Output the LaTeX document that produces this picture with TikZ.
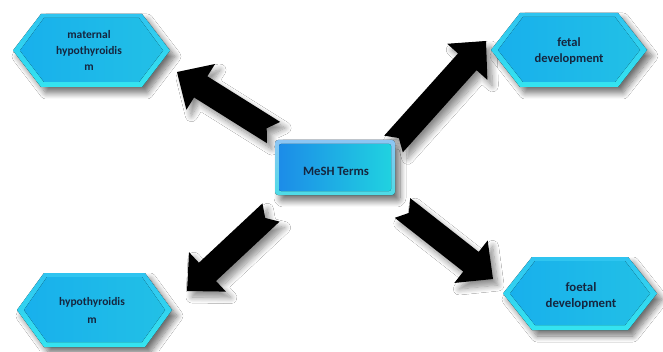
\documentclass[tikz,border=0pt]{standalone}
\usepackage{fontspec}
\setmainfont{Carlito}
\usetikzlibrary{calc,shadows.blur}
\definecolor{txt}{HTML}{15263F}
\definecolor{rimtop}{HTML}{2FC4F0}
\definecolor{rimbot}{HTML}{34E4F0}
\definecolor{facel}{HTML}{18B0EC}
\definecolor{facer}{HTML}{22C0E6}
\definecolor{rectl}{HTML}{1C8CE8}
\definecolor{rectr}{HTML}{20D2E0}
\tikzset{
  shad/.style={blur shadow={shadow xshift=5pt,shadow yshift=-6pt,shadow blur steps=10,shadow opacity=55,shadow blur radius=6pt}},
  rim/.style={top color=rimtop,bottom color=rimbot},
  face/.style={left color=facel,right color=facer},
  lbl/.style={text=txt,font=\bfseries,align=center,inner sep=0pt},
  fat/.style={fill=black,blur shadow={shadow xshift=5pt,shadow yshift=-6pt,shadow blur steps=10,shadow opacity=45,shadow blur radius=6pt}}
}
% hexagon: cx cy half-width half-height inset
\newcommand\mhex[5]{%
  \begin{scope}[shift={(#1,#2)}]
    \fill[shad,rim] (-#3,0) -- ({-#3+#5},#4) -- ({#3-#5},#4) -- (#3,0) -- ({#3-#5},-#4) -- ({-#3+#5},-#4) -- cycle;
    \fill[face] ({-#3+7},0) -- ({-#3+#5+3},{#4-4}) -- ({#3-#5-3},{#4-4}) -- ({#3-7},0) -- ({#3-#5-3},{-#4+5}) -- ({-#3+#5+3},{-#4+5}) -- cycle;
  \end{scope}}
% fat arrow from tail #1 to tip #2
\newcommand\fatarrow[2]{%
  \fill[fat] ($(#1)!12.5pt!90:(#2)$) -- ($(#2)!28pt!(#1)!12.5pt!-90:(#1)$) -- ($(#2)!28pt!(#1)!27pt!-90:(#1)$) -- (#2)
    -- ($(#2)!28pt!(#1)!27pt!90:(#1)$) -- ($(#2)!28pt!(#1)!12.5pt!90:(#1)$) -- ($(#1)!12.5pt!-90:(#2)$) -- ($(#1)!8pt!(#2)$) -- cycle;}
\begin{document}
\begin{tikzpicture}[x=1pt,y=1pt]
\useasboundingbox (0,0) rectangle (663,351);
\fill[white] (0,0) rectangle (663,351);
% arrow anchor points
\coordinate (ulA) at (273.5,218.5); \coordinate (ulB) at (177,279);
\coordinate (urA) at (393.5,207);   \coordinate (urB) at (486,310);
\coordinate (llA) at (271,138.5);   \coordinate (llB) at (187,60);
\coordinate (lrA) at (402.5,143);   \coordinate (lrB) at (493,72);
\fatarrow{ulA}{ulB}
\fatarrow{urA}{urB}
\fatarrow{llA}{llB}
\fatarrow{lrA}{lrB}
% hexagons
\mhex{91.5}{300.5}{78.5}{36.5}{28}
\mhex{569}{301}{78}{37}{29}
\mhex{94.5}{41}{77.5}{37}{27}
\mhex{580}{57.5}{77}{36.5}{29}
% centre box
\fill[shad,rounded corners=3pt,top color=rectl!50!white,bottom color=rectr!80!white] (275,156) rectangle (395,211);
\fill[rounded corners=2pt,left color=rectl,right color=rectr] (279,160) rectangle (391,207);
% labels
\node[lbl,font=\bfseries\fontsize{11.5}{16}\selectfont] (mat) at (89,301) {maternal\\hypothyroidis\\m};
\node[lbl,font=\bfseries\fontsize{12.5}{16}\selectfont] (fet) at (569,300) {fetal\\development};
\node[lbl,font=\bfseries\fontsize{11.5}{18}\selectfont] (hyp) at (92,41) {hypothyroidis\\m};
\node[lbl,font=\bfseries\fontsize{12.8}{16}\selectfont] (foe) at (581,55) {foetal\\development};
\node[lbl,font=\bfseries\fontsize{12.7}{16}\selectfont] (mesh) at (336,180) {MeSH Terms};
\end{tikzpicture}
\end{document}
